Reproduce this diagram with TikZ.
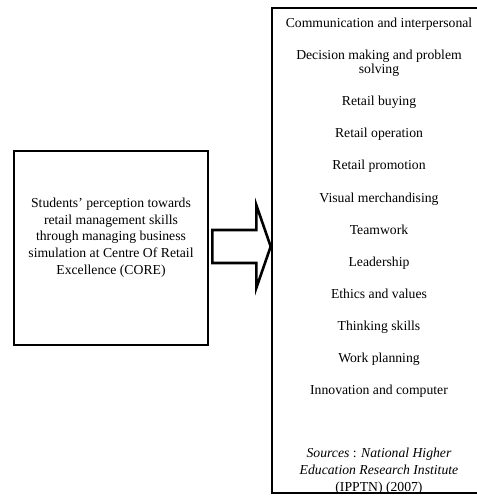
\documentclass[tikz,border=0pt]{standalone}
\usepackage{fontspec}
\setmainfont{Liberation Serif}
\usetikzlibrary{positioning,calc}

\begin{document}
\begin{tikzpicture}[x=1pt,y=-1pt,
  box/.style={draw,line width=2.6pt,minimum width=194pt,minimum height=194pt,inner sep=0pt},
  list/.style={draw,line width=2.6pt,minimum width=214pt,minimum height=485pt,inner sep=0pt},
  txt/.style={align=center,inner sep=0pt,font=\fontsize{13.7}{16.7}\selectfont},
  item/.style={txt,text height=10pt,text depth=3pt},
  blockarr/.style={draw,line width=2.6pt,fill=white,line join=miter},
  node distance=18.7pt
]
\useasboundingbox (0,0) rectangle (477,504);
\node[box] (perc) at (111,248) {};
\node[txt] (perctxt) at (111,237.5) {Students’ perception towards\\retail management skills\\through managing business\\simulation at Centre Of Retail\\Excellence (CORE)};
\node[list] (skills) at (379,250.5) {};
\node[item] (comm) at (379,24) {Communication and interpersonal};
\node[item,text height=24pt,below=of comm] (dec) {Decision making and problem\\[-2.7pt]solving};
\node[item,below=of dec] (buy) {Retail buying};
\node[item,below=of buy] (oper) {Retail operation};
\node[item,below=of oper] (promo) {Retail promotion};
\node[item,below=of promo] (visual) {Visual merchandising};
\node[item,below=of visual] (team) {Teamwork};
\node[item,below=of team] (lead) {Leadership};
\node[item,below=of lead] (ethic) {Ethics and values};
\node[item,below=of ethic] (think) {Thinking skills};
\node[item,below=of think] (plan) {Work planning};
\node[item,below=of plan] (innov) {Innovation and computer};
\node[item,text height=43.4pt,below=49.7pt of innov] (src) {\textit{Sources} : \textit{National Higher}\\\textit{Education Research Institute}\\(IPPTN) (2007)};
% block arrow between the two boxes
\draw[blockarr] ($(perc.east)+(3,-18)$) -- ++(44,0) -- ++(0,-25)
  -- ($(skills.west |- perc.east)+(0,-1.5)$) -- ($(perc.east)+(47,40)$)
  -- ++(0,-25) -- ($(perc.east)+(3,15)$) -- cycle;
\end{tikzpicture}
\end{document}
